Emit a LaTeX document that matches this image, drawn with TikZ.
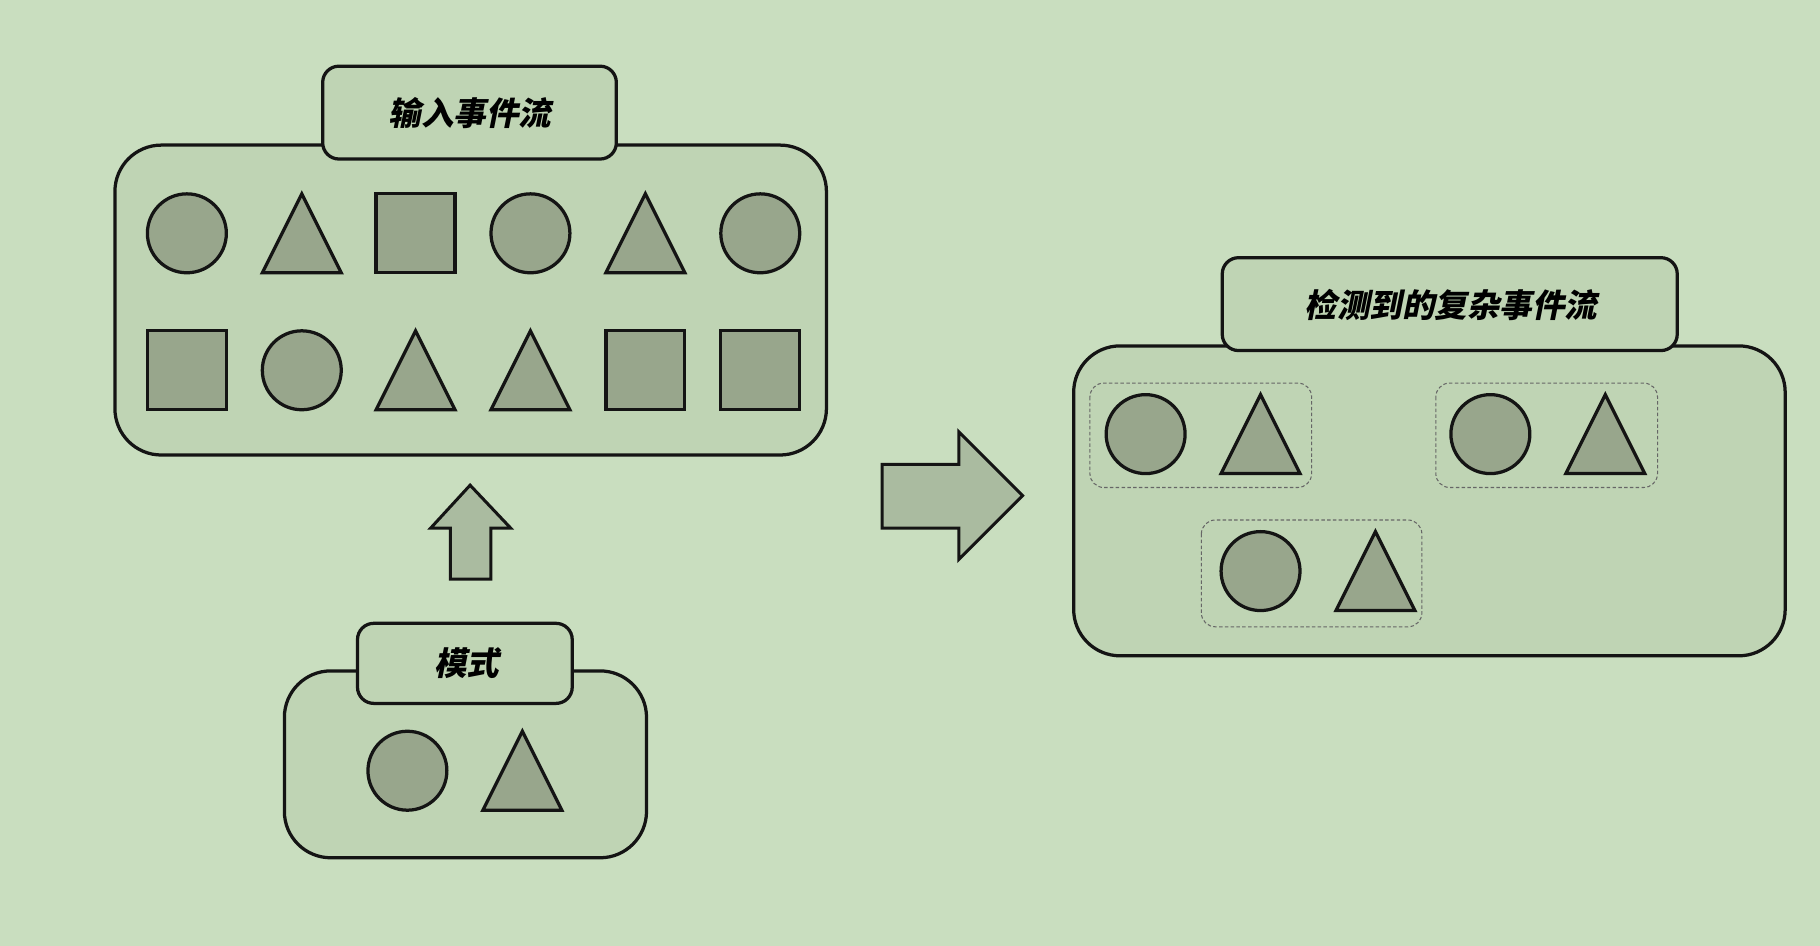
\documentclass[tikz,border=0pt]{standalone}
\usepackage{fontspec}
\newfontfamily\cjk[FakeSlant=0.2]{Noto Sans CJK SC}
\definecolor{bg}{HTML}{C9DEBF}
\definecolor{boxfill}{HTML}{BFD4B4}
\definecolor{shpfill}{HTML}{98A68C}
\definecolor{arrfill}{HTML}{AABBA0}
\definecolor{edge}{HTML}{141414}
\tikzset{
  shp/.style={draw=edge, line width=2.8pt, fill=shpfill, line join=miter},
  bigbox/.style={draw=edge, line width=2.8pt, fill=boxfill, rounded corners=40pt},
  titlebox/.style={draw=edge, line width=2.8pt, fill=boxfill, rounded corners=14pt},
  grp/.style={draw=gray!80!black, line width=0.9pt, dash pattern=on 3pt off 2pt, rounded corners=12pt},
  ttl/.style={font=\cjk\bfseries\fontsize{28pt}{30pt}\selectfont, text=black},
  blockarrow/.style={draw=edge, line width=2.6pt, fill=arrfill, line join=miter},
  circ/.pic={\draw[shp] (0,0) circle (34);},
  tri/.pic={\draw[shp] (-34,34) -- (0,-34) -- (34,34) -- cycle;},
  sq/.pic={\draw[shp] (-34,-34) rectangle (34,34);}
}
\begin{document}
\begin{tikzpicture}[x=1pt,y=-1pt]
\fill[bg] (0,0) rectangle (1568,815);
\useasboundingbox (0,0) rectangle (1568,815);
% input stream
\draw[bigbox] (99,125) rectangle (712,392);
\draw[titlebox] (278,57) rectangle (531,137);
\node[ttl] (intitle) at (405,97) {输入事件流};
\pic at (161,201) {circ};
\pic at (260,201) {tri};
\pic at (358,201) {sq};
\pic at (457,201) {circ};
\pic at (556,201) {tri};
\pic at (655,201) {circ};
\pic at (161,319) {sq};
\pic at (260,319) {circ};
\pic at (358,319) {tri};
\pic at (457,319) {tri};
\pic at (556,319) {sq};
\pic at (655,319) {sq};
% up arrow
\draw[blockarrow] (388,499) -- (388,455) -- (371,455) -- (405,418) -- (440,455) -- (423,455) -- (423,499) -- cycle;
% pattern
\draw[bigbox] (245,578) rectangle (557,739);
\draw[titlebox] (308,537) rectangle (493,606);
\node[ttl] (pattitle) at (402,571) {模式};
\pic at (351,664) {circ};
\pic at (450,664) {tri};
% right arrow
\draw[blockarrow] (760,400) -- (826,400) -- (826,372) -- (881,427) -- (826,482) -- (826,455) -- (760,455) -- cycle;
% output
\draw[bigbox] (925,298) rectangle (1538,565);
\draw[titlebox] (1053,222) rectangle (1445,302);
\node[ttl] (outtitle) at (1250,263) {检测到的复杂事件流};
\draw[grp] (939,330) rectangle (1130,420);
\draw[grp] (1237,330) rectangle (1428,420);
\draw[grp] (1035,448) rectangle (1225,540);
\pic at (987,374) {circ};
\pic at (1086,374) {tri};
\pic at (1284,374) {circ};
\pic at (1383,374) {tri};
\pic at (1086,492) {circ};
\pic at (1185,492) {tri};
\end{tikzpicture}
\end{document}
